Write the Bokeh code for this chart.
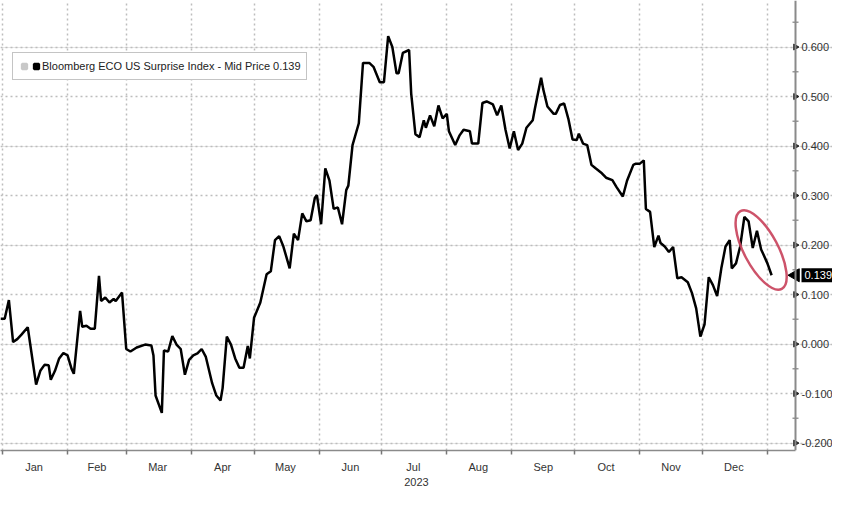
import math
from bokeh.plotting import figure
from bokeh.models import (FixedTicker, Range1d, Legend, LegendItem, Grid, Span,
                          ColumnDataSource)
from bokeh.core.properties import value
from bokeh.embed import file_html
from bokeh.resources import INLINE

# ---- data: days since 2023-01-01, Bloomberg ECO US Surprise Index ----
days = [-1, 1, 3, 5, 7, 9, 12, 16, 18, 20, 22, 23, 25, 27, 29, 31, 33, 34, 37, 38,
        40, 42, 44, 46, 47, 49, 51, 53, 54, 57, 59, 61, 64, 68, 71, 72, 73, 76, 77, 79,
        81, 83, 85, 87, 89, 91, 93, 95, 97, 100, 102, 104, 105, 107, 109, 111, 113, 115, 117, 118,
        120, 123, 126, 128, 130, 132, 134, 137, 139, 141, 143, 145, 147, 149, 150, 152, 154, 156, 158, 160,
        162, 164, 165, 167, 170, 172, 175, 177, 180, 182, 184, 186, 188, 189, 191, 194, 195, 197, 199, 201,
        202, 204, 206, 208, 210, 212, 213, 216, 218, 220, 223, 224, 227, 229, 231, 234, 236, 238, 240, 242,
        244, 246, 248, 250, 253, 254, 257, 258, 260, 263, 264, 266, 268, 270, 272, 274, 275, 277, 279, 281,
        283, 286, 288, 291, 293, 296, 298, 301, 302, 304, 306, 307, 309, 311, 313, 314, 316, 318, 320, 322,
        324, 327, 329, 331, 333, 335, 337, 339, 341, 343, 345, 347, 348, 350, 352, 354, 356, 358, 360, 362,
        363, 365, 367]
surprise = [0.051, 0.051, 0.089, 0.004, 0.010, 0.019, 0.034, -0.082, -0.054, -0.042,
            -0.043, -0.072, -0.054, -0.029, -0.018, -0.023, -0.051, -0.060, 0.067, 0.035,
            0.037, 0.031, 0.031, 0.138, 0.087, 0.094, 0.084, 0.091, 0.087, 0.104,
            -0.010, -0.015, -0.007, -0.001, -0.003, -0.023, -0.104, -0.139, -0.013, -0.015,
            0.016, -0.001, -0.010, -0.062, -0.032, -0.023, -0.019, -0.010, -0.026, -0.079,
            -0.104, -0.114, -0.089, 0.015, -0.001, -0.029, -0.048, -0.048, -0.004, -0.029,
            0.053, 0.084, 0.141, 0.147, 0.210, 0.218, 0.197, 0.153, 0.223, 0.210,
            0.264, 0.248, 0.250, 0.295, 0.301, 0.242, 0.355, 0.330, 0.273, 0.276,
            0.242, 0.311, 0.320, 0.402, 0.446, 0.568, 0.568, 0.560, 0.529, 0.529,
            0.622, 0.600, 0.547, 0.547, 0.588, 0.594, 0.506, 0.424, 0.418, 0.452,
            0.437, 0.462, 0.440, 0.482, 0.456, 0.465, 0.430, 0.402, 0.421, 0.433,
            0.430, 0.405, 0.405, 0.487, 0.490, 0.484, 0.462, 0.482, 0.433, 0.395,
            0.430, 0.392, 0.405, 0.437, 0.452, 0.475, 0.538, 0.515, 0.480, 0.465,
            0.465, 0.483, 0.486, 0.455, 0.413, 0.412, 0.425, 0.405, 0.402, 0.362,
            0.355, 0.345, 0.336, 0.331, 0.317, 0.298, 0.330, 0.362, 0.364, 0.364,
            0.371, 0.273, 0.267, 0.196, 0.219, 0.204, 0.197, 0.186, 0.196, 0.133,
            0.135, 0.125, 0.103, 0.072, 0.015, 0.040, 0.135, 0.119, 0.097, 0.153,
            0.197, 0.210, 0.153, 0.163, 0.197, 0.257, 0.248, 0.194, 0.229, 0.191,
            0.182, 0.163, 0.139]
last_value = 0.139
series_label = "Bloomberg ECO US Surprise Index - Mid Price"
month_names = ["Jan", "Feb", "Mar", "Apr", "May", "Jun",
               "Jul", "Aug", "Sep", "Oct", "Nov", "Dec"]
month_starts = [0, 31, 59, 90, 120, 151, 181, 212, 243, 273, 304, 334, 365]
year_label = "2023"
y_ticks = [-0.2, -0.1, 0.0, 0.1, 0.2, 0.3, 0.4, 0.5, 0.6]
y_minor_ticks = [-0.15, -0.05, 0.05, 0.15, 0.25, 0.35, 0.45, 0.55, 0.65]
y_tick_labels = [f"{v:.3f}" for v in y_ticks]
# highlighted recent move (red ellipse)
highlight_day = 362
highlight_value = 0.19

FONT = "Liberation Sans"
FRAME_W, FRAME_H = 832, 450
X_START = -1
X_AXIS = 378.4                     # where the value axis sits (data units)
AXIS_PX = 795                      # its pixel position inside the frame
X_END = X_START + (X_AXIS - X_START) * FRAME_W / AXIS_PX

p = figure(frame_width=FRAME_W, frame_height=FRAME_H, output_backend="svg",
           toolbar_location=None, x_range=Range1d(X_START, X_END),
           y_range=Range1d(-0.215, 0.694), y_axis_location=None,
           min_border_left=0, min_border_top=0, min_border_right=0,
           min_border_bottom=0, background_fill_color="white",
           border_fill_color="white", outline_line_color=None)

# ---- x axis: month boundaries as minor ticks, month names centred ----
mids = [(a + b) // 2 for a, b in zip(month_starts[:-1], month_starts[1:])]
xa = p.xaxis[0]
xa.bounds = (X_START, X_AXIS)
xa.ticker = FixedTicker(ticks=mids, minor_ticks=month_starts)
xa.major_label_overrides = {m: n for m, n in zip(mids, month_names)}
xa.major_tick_line_color = None
xa.minor_tick_line_color = "#777777"
xa.minor_tick_in = 0
xa.minor_tick_out = 4
xa.minor_tick_line_width = 1.5
xa.axis_line_color = "#8a8a8a"
xa.axis_line_width = 1.5
xa.major_label_text_font = FONT
xa.major_label_text_font_size = "11px"
xa.major_label_text_color = "#333333"
xa.major_label_standoff = 4
xa.axis_label = year_label
xa.axis_label_text_font = FONT
xa.axis_label_text_font_size = "11px"
xa.axis_label_text_font_style = "normal"
xa.axis_label_text_color = "#333333"
xa.axis_label_standoff = 2

# ---- grids ----
p.xgrid.ticker = FixedTicker(ticks=month_starts)
for g in p.xgrid:
    g.grid_line_color = "#bdbdbd"
    g.grid_line_dash = "2 3"
    g.grid_line_width = 1.5
ygrid = Grid(dimension=1, ticker=FixedTicker(ticks=y_ticks),
             bounds=(X_START, X_AXIS), grid_line_color="#bdbdbd",
             grid_line_dash="2 3", grid_line_width=1.5)
p.add_layout(ygrid)

# ---- value axis drawn at X_AXIS (right side) ----
p.add_layout(Span(location=X_AXIS, dimension="height", line_color="#8a8a8a",
                  line_width=2))
p.scatter(x=[X_AXIS] * len(y_minor_ticks), y=y_minor_ticks, marker="dash",
          size=6, line_color="#999999", line_width=1.5)
p.scatter(x=[X_AXIS] * len(y_ticks), y=y_ticks, marker="triangle",
          angle=-math.pi / 2, size=6, fill_color="#222222",
          line_color="#222222")
p.text(x=[X_AXIS] * len(y_ticks), y=y_ticks, text=y_tick_labels,
       x_offset=6, text_baseline="middle", text_align="left",
       text_font=value(FONT), text_font_size="11px", text_color="#333333")

# ---- series ----
p.line(days, surprise, line_color="black", line_width=2.5)

# legend swatches (size 0 on the plot; the legend sizes them itself)
sw_src = ColumnDataSource(dict(x=[days[-1]], y=[last_value]))
sw_gray = p.scatter("x", "y", source=sw_src, marker="square", size=0,
                    fill_color="#c8c8c8", line_color="#c8c8c8", line_width=2.5)
sw_black = p.scatter("x", "y", source=sw_src, marker="square", size=0,
                     fill_color="black", line_color="black", line_width=2.5)
legend = Legend(items=[LegendItem(label=" ", renderers=[sw_gray]),
                       LegendItem(label=f"{series_label} {last_value:.3f}",
                                  renderers=[sw_black])],
                location=(12, FRAME_H - 80), orientation="horizontal",
                border_line_color="#8a8a8a", border_line_width=1.5,
                background_fill_color="white", background_fill_alpha=1.0,
                label_text_font=FONT, label_text_font_size="11px",
                label_text_color="#222222", glyph_width=12, glyph_height=16,
                padding=5, margin=0, label_standoff=0, spacing=0,
                label_height=14, label_width=0)
p.add_layout(legend)

# ---- highlight ellipse ----
p.ellipse(x=[highlight_day], y=[highlight_value], width=88, height=34,
          width_units="screen", height_units="screen",
          angle=math.radians(118), fill_color=None,
          line_color="#c8405a", line_width=2.5, line_alpha=0.9)

# ---- last value tag ----
p.scatter(x=[X_AXIS], y=[last_value], marker="triangle", angle=math.pi / 2,
          size=13, fill_color="black", line_color="black")
p.text(x=[X_AXIS], y=[last_value], text=[f"{last_value:.3f}"], x_offset=6,
       text_baseline="middle", text_align="left", text_font=value(FONT),
       text_font_size="11px", text_color="white",
       background_fill_color="black", padding=3)

open("out.html", "w").write(file_html(p, INLINE))
